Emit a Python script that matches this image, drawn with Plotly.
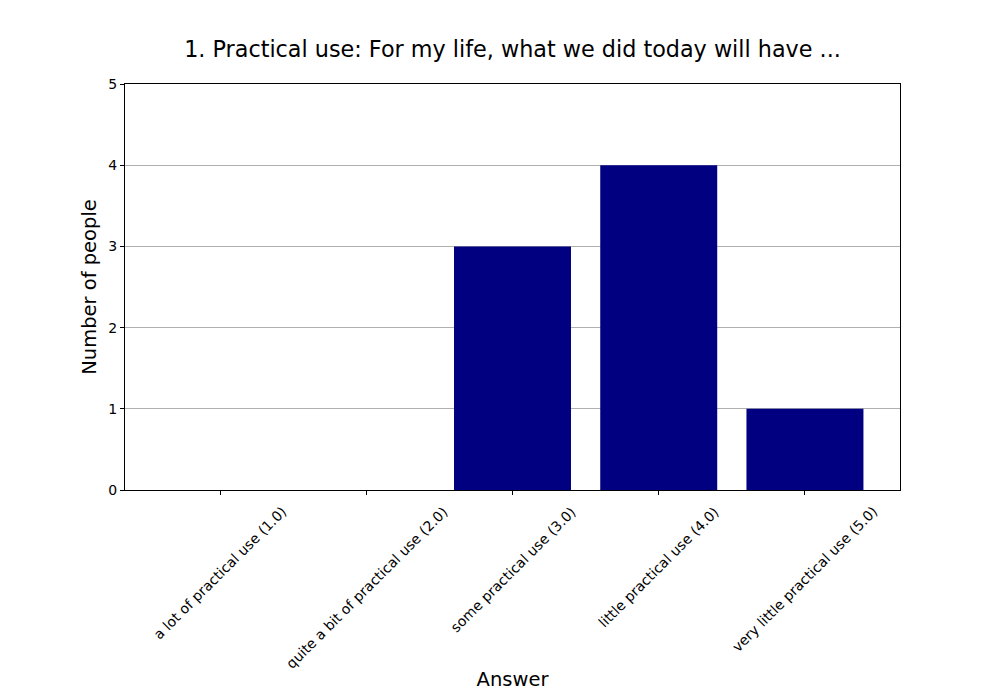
import plotly.graph_objects as go

answers = [
    "a lot of practical use (1.0)",
    "quite a bit of practical use (2.0)",
    "some practical use (3.0)",
    "little practical use (4.0)",
    "very little practical use (5.0)",
]
people = [0, 0, 3, 4, 1]
y_ticks = [0, 1, 2, 3, 4, 5]

fig = go.Figure(go.Bar(x=answers, y=people, marker_color="#000080",
                       marker_line_width=0, width=0.8))

# rotated category labels, centred under each tick like matplotlib's rotation=45
for a in answers:
    fig.add_annotation(
        x=a, xref="x", y=0, yref="paper",
        text=a, showarrow=False, textangle=-45,
        xanchor="center", yanchor="top", yshift=-11,
        font=dict(size=14),
    )

fig.update_layout(
    width=1000,
    height=700,
    margin=dict(l=117, r=108, t=76, b=218),
    paper_bgcolor="white",
    plot_bgcolor="white",
    font=dict(family="DejaVu Sans", color="black", size=14),
    title=dict(
        text="1. Practical use: For my life, what we did today will have ...",
        xref="paper", x=0.5, xanchor="center", y=0.941, yanchor="middle",
        font=dict(size=22.3),
    ),
    showlegend=False,
)
fig.update_xaxes(
    range=[-0.65, 4.65],
    showticklabels=False,
    ticks="outside", ticklen=4, tickcolor="black",
    showline=True, linecolor="black", mirror=True,
    title=dict(text="Answer", font=dict(size=19.5), standoff=178),
)
fig.update_yaxes(
    range=[0, 5],
    tickvals=y_ticks,
    ticks="outside", ticklen=4, tickcolor="black",
    showline=True, linecolor="black", mirror=True,
    showgrid=True, gridcolor="#b0b0b0", gridwidth=1,
    zeroline=False,
    title=dict(text="Number of people", font=dict(size=19.5), standoff=6),
)

fig.write_html("out.html")
